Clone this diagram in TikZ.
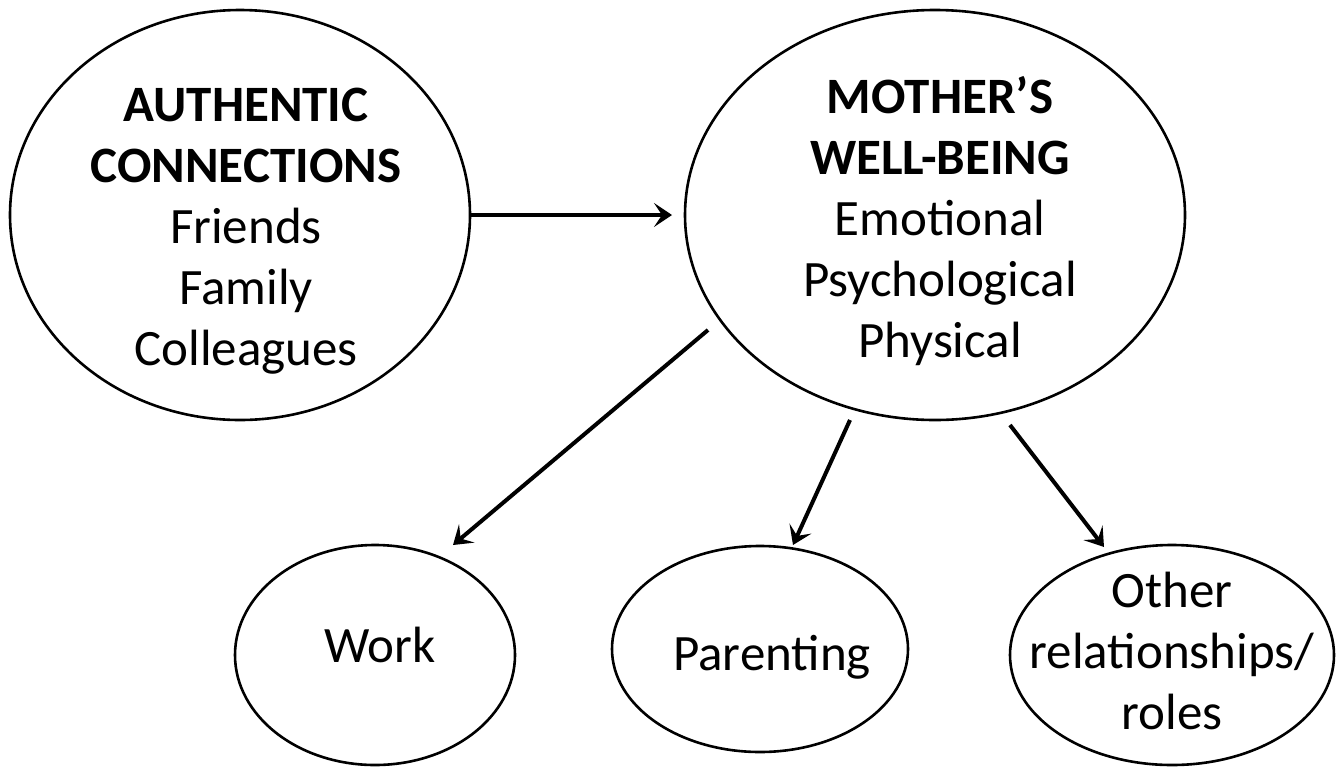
\documentclass[tikz,border=0pt]{standalone}
\usepackage{fontspec}
\setmainfont{Carlito}
\usetikzlibrary{shapes.geometric,arrows.meta}
\begin{document}
\begin{tikzpicture}[x=1pt,y=-1pt,
  oval/.style={draw,ellipse,line width=2.6pt,inner sep=0pt},
  txt/.style={align=center,font=\fontsize{51}{61}\selectfont,inner sep=0pt},
  arr/.style={line width=4pt,-{Stealth[length=18pt,width=24pt,inset=8pt]}}]
\useasboundingbox (0,0) rectangle (1344,772);
\node[oval,minimum width=460pt,minimum height=410pt] (ac) at (240,215) {};
\node[oval,minimum width=500pt,minimum height=410pt] (mw) at (935,215) {};
\node[oval,minimum width=280pt,minimum height=220pt] (wk) at (375,655) {};
\node[oval,minimum width=296pt,minimum height=206pt] (pa) at (760,649) {};
\node[oval,minimum width=324pt,minimum height=220pt] (ot) at (1172,655) {};
\node[txt] (act) at (246,231) {\textbf{AUTHENTIC}\\\textbf{CONNECTIONS}\\Friends\\Family\\Colleagues};
\node[txt] (mwt) at (940,221) {\textbf{MOTHER’S}\\\textbf{WELL-BEING}\\Emotional\\Psychological\\Physical};
\node[txt] (wkt) at (380,645) {Work};
\node[txt] (pat) at (772,657) {Parenting};
\node[txt] (ott) at (1172,651) {Other\\relationships/\\roles};
\coordinate (a1) at (470,215);
\coordinate (a2) at (672,215);
\coordinate (b1) at (708,330);
\coordinate (b2) at (453,545);
\coordinate (c1) at (850,420);
\coordinate (c2) at (793,545);
\coordinate (d1) at (1010,425);
\coordinate (d2) at (1104,547);
\draw[arr] (a1) -- (a2);
\draw[arr] (b1) -- (b2);
\draw[arr] (c1) -- (c2);
\draw[arr] (d1) -- (d2);
\end{tikzpicture}
\end{document}
